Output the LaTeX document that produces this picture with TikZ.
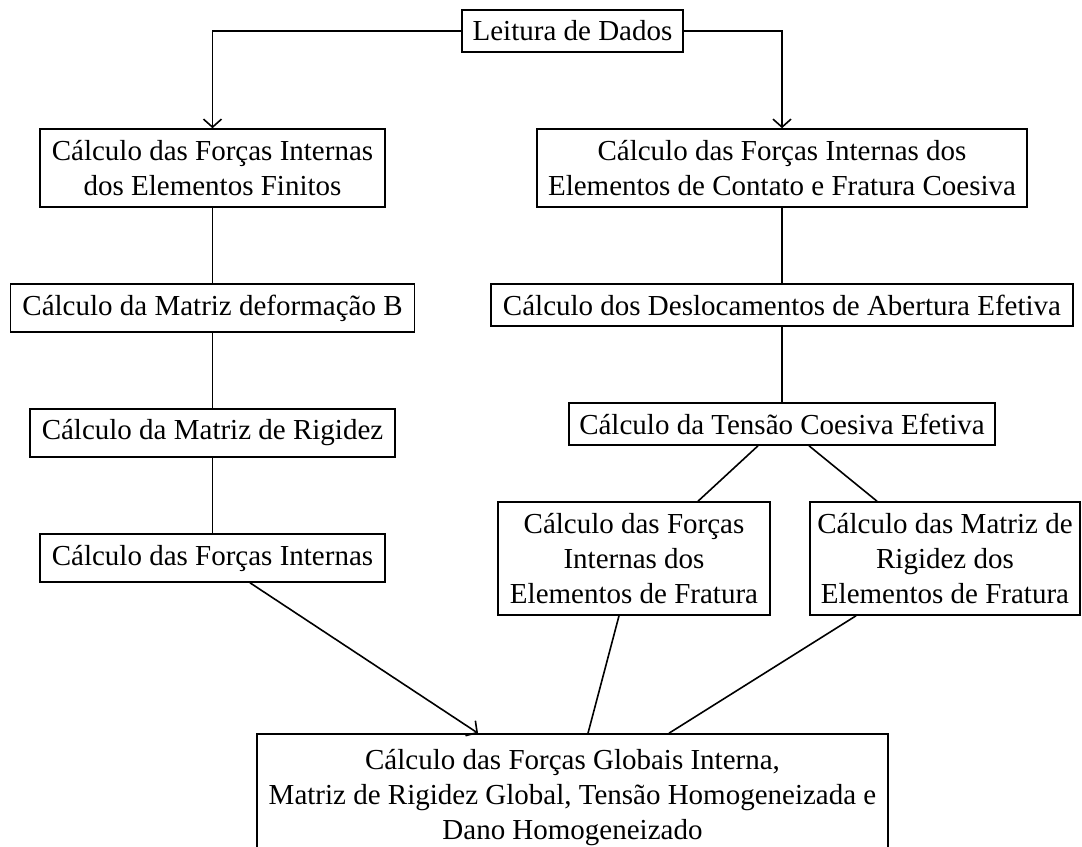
\documentclass[tikz,border=0pt]{standalone}
\usepackage{fontspec}
\setmainfont{Liberation Serif}
\usetikzlibrary{arrows.meta}
\begin{document}
\begin{tikzpicture}[x=1bp,y=-1bp,
  box/.style={draw,line width=1.6bp,inner sep=0pt,align=center,
    font=\fontsize{29bp}{35bp}\selectfont},
  conn/.style={line width=1.6bp},
  arr/.style={conn,-{Straight Barb[length=8bp,width=18bp,line width=1.6bp]}}]
\useasboundingbox (0,0) rectangle (1082,847);
\node[box,minimum width=221bp,minimum height=42bp] (lei) at (572.5,31) {Leitura de Dados};
\node[box,minimum width=345bp,minimum height=78bp] (l1) at (212.5,168) {Cálculo das Forças Internas\\dos Elementos Finitos};
\node[box,minimum width=490bp,minimum height=78bp] (r1) at (782,168) {Cálculo das Forças Internas dos\\Elementos de Contato e Fratura Coesiva};
\node[box,minimum width=404bp,minimum height=48bp] (l2) at (212.5,308) {Cálculo da Matriz deformação B};
\node[box,minimum width=582bp,minimum height=42bp] (r2) at (782,305) {Cálculo dos Deslocamentos de Abertura Efetiva};
\node[box,minimum width=365bp,minimum height=48bp] (l3) at (212.5,433) {Cálculo da Matriz de Rigidez};
\node[box,minimum width=426bp,minimum height=42bp] (r3) at (782,424) {Cálculo da Tensão Coesiva Efetiva};
\node[box,minimum width=345bp,minimum height=48bp] (l4) at (212.5,558) {Cálculo das Forças Internas};
\node[box,minimum width=272bp,minimum height=113bp] (r4a) at (634,558.5) {Cálculo das Forças\\Internas dos\\Elementos de Fratura};
\node[box,minimum width=270bp,minimum height=113bp] (r4b) at (945,558.5) {Cálculo das Matriz de\\Rigidez dos\\Elementos de Fratura};
\node[box,minimum width=631bp,minimum height=127bp] (bot) at (572.5,797.5) {Cálculo das Forças Globais Interna,\\Matriz de Rigidez Global, Tensão Homogeneizada e\\Dano Homogeneizado};
\draw[arr] (lei.west) -| (l1.north);
\draw[arr] (lei.east) -| (r1.north);
\draw[conn] (l1) -- (l2);
\draw[conn] (l2) -- (l3);
\draw[conn] (l3) -- (l4);
\draw[conn] (r1) -- (r2);
\draw[conn] (r2) -- (r3);
\draw[conn] ([xshift=-24bp]r3.south) -- ([xshift=64bp]r4a.north);
\draw[conn] ([xshift=27bp]r3.south) -- ([xshift=-68bp]r4b.north);
\draw[arr] ([xshift=37.5bp]l4.south) -- ([xshift=-94.5bp]bot.north);
\draw[conn] ([xshift=-15bp]r4a.south) -- ([xshift=15.5bp]bot.north);
\draw[conn] ([xshift=-89bp]r4b.south) -- ([xshift=96.5bp]bot.north);
\end{tikzpicture}
\end{document}
